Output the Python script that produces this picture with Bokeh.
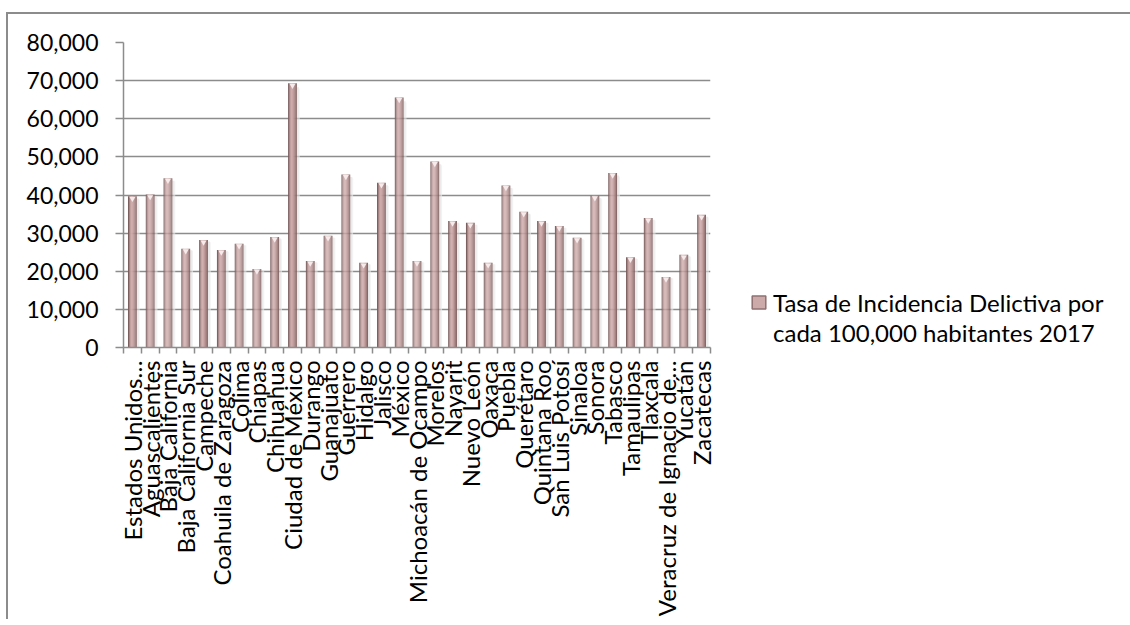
import numpy as np
from bokeh.plotting import figure
from bokeh.models import FixedTicker, NumeralTickFormatter, Range1d, Legend, LegendItem
from bokeh.embed import file_html
from bokeh.resources import INLINE

states = [
    "Estados Unidos…", "Aguascalientes", "Baja California", "Baja California Sur",
    "Campeche", "Coahuila de Zaragoza", "Colima", "Chiapas", "Chihuahua",
    "Ciudad de México", "Durango", "Guanajuato", "Guerrero", "Hidalgo", "Jalisco",
    "México", "Michoacán de Ocampo", "Morelos", "Nayarit", "Nuevo León", "Oaxaca",
    "Puebla", "Querétaro", "Quintana Roo", "San Luis Potosí", "Sinaloa", "Sonora",
    "Tabasco", "Tamaulipas", "Tlaxcala", "Veracruz de Ignacio de…", "Yucatán",
    "Zacatecas",
]
values = [
    39650, 40100, 44400, 25900, 28200, 25600, 27200, 20600, 29000,
    69300, 22700, 29300, 45400, 22200, 43200, 65600, 22700, 48800,
    33200, 32700, 22200, 42500, 35600, 33200, 31900, 28800, 39800,
    45800, 23700, 34000, 18500, 24300, 34800,
]
y_ticks = [0, 10000, 20000, 30000, 40000, 50000, 60000, 70000, 80000]
series_name_lines = ["Tasa de Incidencia Delictiva por", "cada 100,000 habitantes 2017"]

FONT = "Lato"
GRID = "#8c8c8c"

n = len(states)
centers = np.arange(n) + 0.5
vals = np.array(values, dtype=float)

p = figure(
    x_range=Range1d(0, n), y_range=Range1d(0, 80000),
    frame_width=587, frame_height=305,
    min_border_left=115, min_border_top=28, min_border_bottom=266, min_border_right=390,
    output_backend="svg", toolbar_location=None,
)
p.styles = {"border-top": "2px solid #8c8c8c", "border-left": "2px solid #8c8c8c",
            "margin-top": "12px", "margin-left": "6px"}
p.outline_line_color = None
p.background_fill_color = "white"

# grid
p.xgrid.visible = False
p.ygrid.ticker = FixedTicker(ticks=y_ticks)
p.ygrid.grid_line_color = GRID
p.ygrid.grid_line_width = 1.5

# shadow
p.vbar(x=centers + 0.30, top=vals * 0.985, width=0.12, bottom=0,
       fill_color="#dddddd", fill_alpha=0.6, line_color=None)
p.vbar(x=centers + 0.38, top=vals * 0.98, width=0.06, bottom=0,
       fill_color="#ececec", fill_alpha=0.6, line_color=None)

# cylindrical bars
bar_w = 0.49
shades = ["#7a5d5d", "#a38282", "#c19e9e", "#ceabab", "#caa6a6",
          "#c09b9b", "#b18d8d", "#a07d7d", "#876868"]
sw = bar_w / len(shades)
for k, c in enumerate(shades):
    off = -bar_w / 2 + sw * (k + 0.5)
    p.vbar(x=centers + off, top=vals, width=sw * 1.08, bottom=0,
           fill_color=c, line_color=None)

# top highlight
p.scatter(x=centers, y=vals - 600, marker="inverted_triangle", size=6,
          fill_color="#f6eaea", line_color=None)

# x axis
xa = p.xaxis[0]
xa.ticker = FixedTicker(ticks=[float(c) for c in centers],
                        minor_ticks=list(range(n + 1)))
xa.major_label_overrides = {float(c): s for c, s in zip(centers, states)}
xa.major_label_orientation = np.pi / 2
xa.major_tick_out = 0
xa.major_tick_in = 0
xa.minor_tick_out = 6
xa.minor_tick_in = 0
xa.minor_tick_line_color = GRID
xa.minor_tick_line_width = 1.5
xa.axis_line_color = GRID
xa.axis_line_width = 1.5
xa.major_label_standoff = 7
xa.major_label_text_font = FONT
xa.major_label_text_font_size = "24px"
xa.major_label_text_color = "black"

# y axis
ya = p.yaxis[0]
ya.ticker = FixedTicker(ticks=y_ticks)
ya.formatter = NumeralTickFormatter(format="0,0")
ya.major_tick_out = 8
ya.major_tick_in = 0
ya.minor_tick_line_color = None
ya.major_tick_line_color = GRID
ya.major_tick_line_width = 1.5
ya.axis_line_color = GRID
ya.axis_line_width = 1.5
ya.major_label_standoff = 17
ya.major_label_text_font = FONT
ya.major_label_text_font_size = "23px"
ya.major_label_text_color = "black"

# legend (two lines; swatch aligned with the first line)
lr = p.quad(left=[-10], right=[-9], bottom=[-10], top=[-9],
            fill_color="#cdaaaa", line_color="#8f6f6f", line_width=1.5)
blank = p.quad(left=[-10], right=[-9], bottom=[-10], top=[-9],
               fill_alpha=0, line_alpha=0)
legend = Legend(
    items=[LegendItem(label=series_name_lines[0], renderers=[lr]),
           LegendItem(label=series_name_lines[1], renderers=[blank])],
    location=(40, 0), spacing=0,
    label_text_font=FONT, label_text_font_size="24px", label_text_color="black",
    label_height=30,
    border_line_color=None, background_fill_alpha=0,
    glyph_width=17, glyph_height=16, label_standoff=6, padding=0, margin=0,
)
p.add_layout(legend, "right")

open("out.html", "w").write(file_html(p, INLINE))
